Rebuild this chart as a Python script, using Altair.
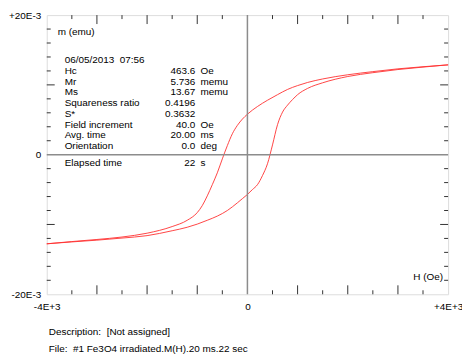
import altair as alt
import pandas as pd

# Descending branch (upper curve), H in Oe, m in 1E-3 emu
h_desc = [-4000, -3500, -3000, -2500, -2000, -1500, -1200, -1000, -900, -800, -700, -600, -500, -400, -300,
          -200, -100, 0, 200, 400, 600, 800, 1000, 1200, 1500, 2000, 2500, 3000, 3500, 4000]
m_desc = [-12.77, -12.45, -12.15, -11.8, -11.25, -10.3, -9.4, -8.3, -7.3, -5.9, -4.3, -2.6, -0.6, 1.3, 3.0,
          4.2, 5.1, 5.8, 6.9, 7.8, 8.6, 9.35, 9.9, 10.35, 10.85, 11.45, 11.9, 12.3, 12.6, 12.87]
# Ascending branch (lower curve)
h_asc = [-4000, -3500, -3000, -2500, -2000, -1500, -1200, -1000, -800, -600, -400, -200, -100, 0, 100,
         200, 300, 400, 500, 600, 700, 800, 900, 1000, 1200, 1500, 2000, 2500, 3000, 3500, 4000]
m_asc = [-12.77, -12.5, -12.25, -11.95, -11.6, -10.9, -10.4, -9.95, -9.4, -8.8, -8.0, -6.9, -6.3, -5.7, -5.0,
         -4.3, -3.0, -1.3, 1.4, 4.3, 6.1, 7.1, 7.9, 8.6, 9.5, 10.3, 11.2, 11.75, 12.2, 12.55, 12.87]

x_minor = [-3500, -2500, -1500, -500, 500, 1500, 2500, 3500]
x_major = [-3000, -2000, -1000, 1000, 2000, 3000]
y_minor = [-18, -16, -14, -12, -8, -6, -4, -2, 2, 4, 6, 8, 12, 14, 16, 18]
y_major = [-10, 10]

info_labels = ["Hc", "Mr", "Ms", "Squareness ratio", "S*", "Field increment", "Avg. time", "Orientation"]
info_values = ["463.6", "5.736", "13.67", "0.4196", "0.3632", "40.0", "20.00", "0.0"]
info_units = ["Oe", "memu", "memu", "", "", "Oe", "ms", "deg"]

W, H = 404, 281
FONT = "Liberation Sans"
RED = "#ff3030"
NB = "\u00a0"

xs = alt.Scale(domain=[-4000, 4000], nice=False, zero=False)
ys = alt.Scale(domain=[-20, 20], nice=False, zero=False)

x_axis = alt.Axis(values=[-4000, 0, 4000], grid=False, domain=False, ticks=False, title=None,
                  labelExpr="datum.value < 0 ? '-4E+3' : (datum.value > 0 ? '+4E+3' : '0')",
                  labelFlush=False, labelPadding=7, labelFont=FONT, labelFontSize=10,
                  labelColor="black")
y_axis = alt.Axis(values=[-20, 0, 20], grid=False, domain=False, ticks=False, title=None,
                  labelExpr="datum.value < 0 ? '-20E-3' : (datum.value > 0 ? '+20E-3' : '0')",
                  labelFlush=False, labelPadding=6, labelFont=FONT, labelFontSize=10,
                  labelColor="black")


def X():
    return alt.X("h:Q", scale=xs, title=None, axis=x_axis)


def Y():
    return alt.Y("m:Q", scale=ys, title=None, axis=y_axis)


curve_df = pd.DataFrame({
    "h": h_desc + h_asc,
    "m": m_desc + m_asc,
    "branch": ["desc"] * len(h_desc) + ["asc"] * len(h_asc),
})

lines = alt.Chart(curve_df).mark_line(color=RED, strokeWidth=0.9, interpolate="monotone").encode(
    x=X(), y=Y(), detail="branch:N")

zero_x = alt.Chart(pd.DataFrame({"h": [0]})).mark_rule(color="#8c8c8c", strokeWidth=1.5).encode(x=X())
zero_y = alt.Chart(pd.DataFrame({"m": [0]})).mark_rule(color="#8c8c8c", strokeWidth=1.5).encode(y=Y())

TICK = "#333333"
tick_layers = []
for vals, ln in ((x_minor, 4), (x_major, 9)):
    d = pd.DataFrame({"h": vals})
    tick_layers.append(alt.Chart(d).mark_rule(color=TICK, strokeWidth=1).encode(
        x=X(), y=alt.value(H), y2=alt.value(H - ln)))
    tick_layers.append(alt.Chart(d).mark_rule(color=TICK, strokeWidth=1).encode(
        x=X(), y=alt.value(0), y2=alt.value(ln)))
for vals, ln in ((y_minor, 4), (y_major, 8)):
    d = pd.DataFrame({"m": vals})
    tick_layers.append(alt.Chart(d).mark_rule(color=TICK, strokeWidth=1).encode(
        y=Y(), x=alt.value(0), x2=alt.value(ln)))
    tick_layers.append(alt.Chart(d).mark_rule(color=TICK, strokeWidth=1).encode(
        y=Y(), x=alt.value(W), x2=alt.value(W - ln)))

blank = pd.DataFrame({"a": [0]})


def txt(s, x, y, align="left"):
    return alt.Chart(blank).mark_text(text=s, align=align, baseline="middle", font=FONT,
                                      fontSize=10, color="black").encode(
        x=alt.value(x), y=alt.value(y))


texts = [
    txt("m (emu)", 11, 17.5),
    txt("06/05/2013" + NB + NB + "07:56", 18, 45.3),
    txt("H (Oe)", 399, 264, align="right"),
    txt("Elapsed time", 18, 149.3),
    txt("22", 149.5, 149.3, align="right"),
    txt("s", 154.7, 149.3),
    txt("Description:" + NB + NB + "[Not assigned]", 2, 319.3),
    txt("File:" + NB + NB + "#1 Fe3O4 irradiated.M(H).20 ms.22 sec", 2, 336),
]
for i, (lab, val, unit) in enumerate(zip(info_labels, info_values, info_units)):
    yy = 56.3 + i * 10.8
    texts.append(txt(lab, 18, yy))
    texts.append(txt(val, 149.5, yy, align="right"))
    if unit:
        texts.append(txt(unit, 154.7, yy))

chart = alt.layer(lines, zero_x, zero_y, *tick_layers, *texts).properties(
    width=W, height=H,
    autosize=alt.AutoSizeParams(type="none"),
    padding={"left": 39, "top": 6, "right": 14, "bottom": 60},
).configure_view(stroke="black", strokeWidth=1.2).configure(background="white")

chart.save("out.html", embed_options={"renderer": "svg", "actions": False})
